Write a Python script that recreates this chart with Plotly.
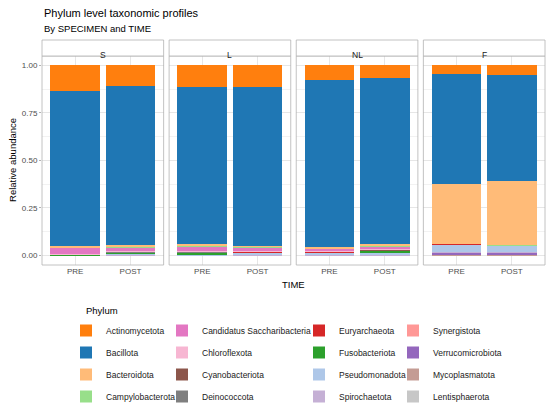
import plotly.graph_objects as go

# phyla in stacking order, top of the bar first
PHYLA = ["Actinomycetota", "Bacillota", "Bacteroidota", "Campylobacterota",
         "Candidatus Saccharibacteria", "Chloroflexota", "Cyanobacteriota", "Deinococcota",
         "Euryarchaeota", "Fusobacteriota", "Pseudomonadota", "Spirochaetota",
         "Synergistota", "Verrucomicrobiota", "Mycoplasmatota", "Lentisphaerota"]
COLORS = ["#ff7f0e", "#1f77b4", "#ffbb78", "#98df8a",
          "#e377c2", "#f7b6d2", "#8c564b", "#7f7f7f",
          "#d62728", "#2ca02c", "#aec7e8", "#c5b0d5",
          "#ff9896", "#9467bd", "#c49c94", "#c7c7c7"]

SPECIMENS = ["S", "L", "NL", "F"]
TIMES = ["PRE", "POST"]

# relative abundance per sample, same order as PHYLA
S_PRE = [0.135, 0.817, 0.004, 0.001, 0.036, 0.002, 0.001, 0.000,
         0.000, 0.003, 0.001, 0.000, 0.000, 0.000, 0.000, 0.000]
S_POST = [0.108, 0.837, 0.010, 0.002, 0.019, 0.004, 0.001, 0.001,
          0.001, 0.004, 0.011, 0.001, 0.001, 0.000, 0.000, 0.000]
L_PRE = [0.115, 0.822, 0.015, 0.002, 0.022, 0.004, 0.001, 0.001,
         0.001, 0.010, 0.006, 0.001, 0.000, 0.000, 0.000, 0.000]
L_POST = [0.112, 0.837, 0.006, 0.002, 0.018, 0.004, 0.001, 0.001,
          0.001, 0.004, 0.012, 0.001, 0.001, 0.000, 0.000, 0.000]
NL_PRE = [0.077, 0.876, 0.009, 0.001, 0.012, 0.004, 0.001, 0.001,
          0.001, 0.004, 0.012, 0.001, 0.001, 0.000, 0.000, 0.000]
NL_POST = [0.066, 0.871, 0.014, 0.002, 0.013, 0.005, 0.002, 0.001,
           0.001, 0.008, 0.014, 0.002, 0.001, 0.000, 0.000, 0.000]
F_PRE = [0.046, 0.579, 0.312, 0.001, 0.001, 0.000, 0.000, 0.000,
         0.004, 0.001, 0.038, 0.001, 0.001, 0.015, 0.001, 0.000]
F_POST = [0.051, 0.556, 0.339, 0.001, 0.000, 0.000, 0.000, 0.000,
          0.001, 0.001, 0.034, 0.001, 0.000, 0.015, 0.001, 0.000]

samples = {"S": (S_PRE, S_POST), "L": (L_PRE, L_POST),
           "NL": (NL_PRE, NL_POST), "F": (F_PRE, F_POST)}

FONT = "Liberation Sans"
# plot area in pixels: left 41.5, right 545, top 40, bottom 265.2
W, H = 550, 407
L_M, R_M, T_M, B_M = 41.5, 5, 40, 141.8
PW = W - L_M - R_M
PH = H - T_M - B_M
GAP = 5.5
PANEL = (PW - 3 * GAP) / 4
PANEL_TOP = (PH - 16) / PH  # strip is ~16 px tall


def px_x(p):
    return (p - L_M) / PW


def px_y(p):
    return (H - B_M - p) / PH


fig = go.Figure()

for i, sp in enumerate(SPECIMENS):
    ax = "" if i == 0 else str(i + 1)
    pre, post = samples[sp]
    # bottom of the stack first so Actinomycetota ends up on top
    for k in reversed(range(len(PHYLA))):
        col = k // 4
        fig.add_trace(go.Bar(
            x=TIMES, y=[pre[k], post[k]], name=PHYLA[k],
            marker=dict(color=COLORS[k], line=dict(width=0)),
            xaxis="x" + ax, yaxis="y" + ax,
            legend="legend" if col == 0 else "legend" + str(col + 1),
            legendgroup=PHYLA[k], legendrank=k,
            showlegend=(i == 0),
        ))

    x0 = (PANEL + GAP) * i / PW
    x1 = x0 + PANEL / PW
    fig.layout["xaxis" + ax] = dict(
        domain=[x0, x1], anchor="y" + ax, type="category",
        range=[-0.6, 1.6], showgrid=True, gridcolor="#e6e6e6", gridwidth=0.7,
        tickfont=dict(family=FONT, size=8, color="#4d4d4d"),
        ticks="", zeroline=False,
    )
    fig.layout["yaxis" + ax] = dict(
        domain=[0, PANEL_TOP], anchor="x" + ax, range=[-0.05, 1.05],
        tickvals=[0, 0.25, 0.5, 0.75, 1], ticktext=["0.00", "0.25", "0.50", "0.75", "1.00"],
        showticklabels=(i == 0), ticks="outside" if i == 0 else "", ticklen=2,
        tickcolor="#b3b3b3", showgrid=True, gridcolor="#e6e6e6", gridwidth=0.7,
        minor=dict(tickvals=[0.125, 0.375, 0.625, 0.875], showgrid=True,
                   gridcolor="#f2f2f2", gridwidth=0.5),
        tickfont=dict(family=FONT, size=8, color="#4d4d4d"), zeroline=False,
    )
    # panel border
    fig.add_shape(type="rect", xref="x" + ax + " domain", yref="paper",
                  x0=0, x1=1, y0=0, y1=PANEL_TOP,
                  line=dict(color="#b3b3b3", width=0.8), layer="above")
    # strip
    fig.add_shape(type="rect", xref="x" + ax + " domain", yref="paper",
                  x0=0, x1=1, y0=PANEL_TOP, y1=1,
                  line=dict(color="#b3b3b3", width=0.8), fillcolor="white")
    fig.add_annotation(text=sp, xref="x" + ax + " domain", yref="paper",
                       x=0.5, y=(PANEL_TOP + 1) / 2, showarrow=False,
                       font=dict(family=FONT, size=8.5, color="#1a1a1a"))

fig.add_annotation(text="Phylum level taxonomic profiles", xref="paper", yref="paper",
                   x=0, y=px_y(12.5), xanchor="left", yanchor="middle", showarrow=False,
                   font=dict(family=FONT, size=11, color="black"))
fig.add_annotation(text="By SPECIMEN and TIME", xref="paper", yref="paper",
                   x=0, y=px_y(28), xanchor="left", yanchor="middle", showarrow=False,
                   font=dict(family=FONT, size=9.5, color="black"))
fig.add_annotation(text="TIME", xref="paper", yref="paper",
                   x=0.5, y=px_y(285), yanchor="middle", showarrow=False,
                   font=dict(family=FONT, size=9.5, color="black"))
fig.add_annotation(text="Relative abundance", xref="paper", yref="paper",
                   x=px_x(12), y=px_y(160.5), xanchor="center", yanchor="middle",
                   textangle=-90, showarrow=False,
                   font=dict(family=FONT, size=9.5, color="black"))
fig.add_annotation(text="Phylum", xref="paper", yref="paper",
                   x=px_x(84), y=px_y(311), xanchor="left", yanchor="middle",
                   showarrow=False, font=dict(family=FONT, size=9.5, color="black"))

# legend box left edges in pixels (text starts ~40 px to the right)
legend_left = [66, 162, 299, 393]
for c, lx in enumerate(legend_left):
    name = "legend" if c == 0 else "legend" + str(c + 1)
    fig.layout[name] = dict(
        xref="container", yref="container",
        x=lx / W, y=1 - 316 / H, xanchor="left", yanchor="top",
        orientation="v", traceorder="grouped", tracegroupgap=3,
        font=dict(family=FONT, size=8.5, color="#1a1a1a"),
        bgcolor="rgba(0,0,0,0)", borderwidth=0,
    )

fig.update_layout(
    width=W, height=H, barmode="stack", bargap=0.1,
    margin=dict(l=L_M, r=R_M, t=T_M, b=B_M, autoexpand=False),
    plot_bgcolor="white", paper_bgcolor="white",
    font=dict(family=FONT),
)

# drop the browser's default body margin so the figure sits at the page corner
fig.write_html("out.html", config={"displayModeBar": False},
               post_script="document.body.style.margin='0';")
